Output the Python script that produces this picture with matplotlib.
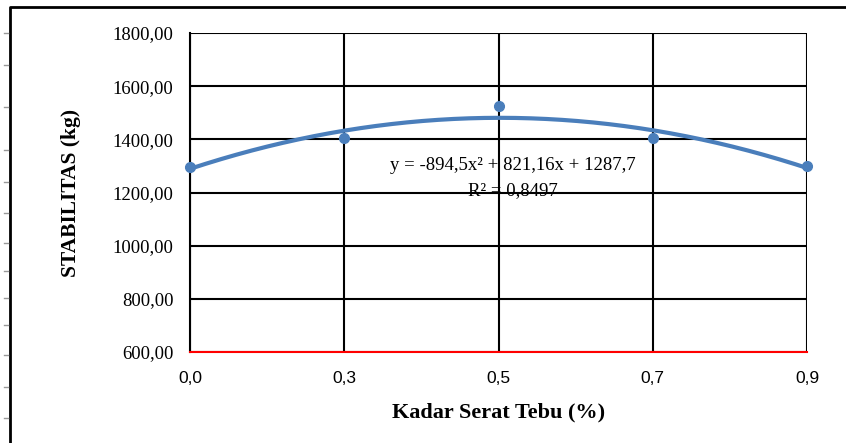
import matplotlib
matplotlib.use('Agg')
import matplotlib.pyplot as plt
from matplotlib.lines import Line2D
import numpy as np

# Data (Kadar serat tebu vs stabilitas)
kadar_labels = ['0,0', '0,3', '0,5', '0,7', '0,9']
stabilitas = [1296, 1404, 1525, 1404, 1300]
y_ticks = [600, 800, 1000, 1200, 1400, 1600, 1800]
eq_line = 'y = -894,5x² + 821,16x + 1287,7'
r2_line = 'R² = 0,8497'

blue = '#4a7ebb'
serif = 'Liberation Serif'

fig = plt.figure(figsize=[8.46, 4.43], dpi=100)
ax = fig.add_axes([0.2246, 0.2054, 0.7293, 0.7201])

idx = np.arange(len(stabilitas))

# Polynomial (order 2) trendline on category positions
coef = np.polyfit(idx, stabilitas, 2)
xs = np.linspace(0, len(stabilitas) - 1, 200)
ax.plot(xs, np.polyval(coef, xs), color=blue, lw=3, zorder=3)
ax.plot(idx, stabilitas, 'o', color=blue, ms=7, zorder=4, clip_on=False)

ax.set_xlim(0, len(stabilitas) - 1)
ax.set_ylim(600, 1800)
ax.set_yticks(y_ticks)
ax.set_yticklabels(['%d,00' % v for v in y_ticks], family=serif, fontsize=13.5)
ax.set_xticks(idx)
ax.set_xticklabels(kadar_labels, family='Liberation Sans', fontsize=12.5)
ax.tick_params(axis='y', length=0, pad=12)
ax.tick_params(axis='x', length=0, pad=13.5)

ax.grid(True, color='black', lw=1.5)
for s in ['top', 'right']:
    ax.spines[s].set_visible(False)
ax.spines['left'].set_color('black')
ax.spines['left'].set_linewidth(1.5)
ax.spines['bottom'].set_color('#ff0000')
ax.spines['bottom'].set_linewidth(1.5)
ax.spines['bottom'].set_zorder(5)

ax.set_ylabel('STABILITAS (kg)', family=serif, fontweight='bold', fontsize=15.5, labelpad=23)
ax.set_xlabel('Kadar Serat Tebu (%)', family=serif, fontweight='bold', fontsize=16, labelpad=12)

ax.text(2.09, 1303, eq_line, family=serif, fontsize=13.5, ha='center', va='center', zorder=5)
ax.text(2.09, 1209, r2_line, family=serif, fontsize=13.5, ha='center', va='center', zorder=5)

# outer frame (cropped on right and bottom)
fig.add_artist(Line2D([10/846, 10/846, 1.0], [0.0, 1 - 7/443, 1 - 7/443],
                      transform=fig.transFigure, color='black', lw=2))
ruler = [33, 65, 107, 150, 182, 213, 243, 271, 298, 325, 355, 387, 418]
for r in ruler:
    fig.add_artist(Line2D([4/846, 8/846], [1 - r/443, 1 - r/443],
                          transform=fig.transFigure, color='#999999', lw=1))

fig.savefig('out.png', dpi=100)
